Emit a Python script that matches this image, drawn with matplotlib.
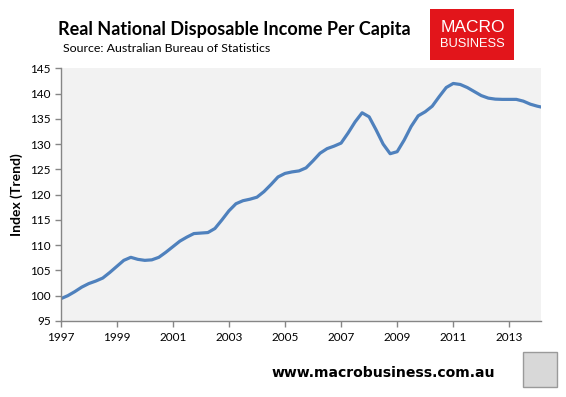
import matplotlib
matplotlib.use("Agg")
import matplotlib.pyplot as plt
import numpy as np
from matplotlib.patches import Rectangle

# Quarterly index values, 1997 Q1 onwards
start_year = 1997
values = [
    99.4, 100.0, 100.8, 101.7,
    102.4, 102.9, 103.5, 104.6,
    105.8, 107.0, 107.6, 107.2,
    107.0, 107.1, 107.6, 108.6,
    109.7, 110.8, 111.6, 112.3,
    112.4, 112.5, 113.3, 115.0,
    116.8, 118.2, 118.8, 119.1,
    119.5, 120.6, 122.0, 123.5,
    124.2, 124.5, 124.7, 125.3,
    126.7, 128.2, 129.1, 129.6,
    130.2, 132.2, 134.4, 136.2,
    135.4, 132.8, 130.0, 128.1,
    128.5, 130.8, 133.5, 135.6,
    136.4, 137.5, 139.4, 141.2,
    142.0, 141.8, 141.2, 140.4,
    139.6, 139.1, 138.9, 138.85,
    138.85, 138.85, 138.5, 137.9,
    137.5, 137.2,
]
x_ticks = [1997, 1999, 2001, 2003, 2005, 2007, 2009, 2011, 2013]
y_ticks = [95, 100, 105, 110, 115, 120, 125, 130, 135, 140, 145]

title = "Real National Disposable Income Per Capita"
subtitle = "Source: Australian Bureau of Statistics"
ylabel = "Index (Trend)"
footer = "www.macrobusiness.com.au"

W, H = 566, 397
fig = plt.figure(figsize=(W / 100, H / 100), dpi=100)
fig.patch.set_facecolor("white")

def fx(px):
    return px / W

def fy(py):
    return 1 - py / H

ax = fig.add_axes([fx(60.7), fy(321), fx(541) - fx(60.7), fy(68.3) - fy(321)])
ax.set_facecolor("#F2F2F2")

x = start_year + np.arange(len(values)) * 0.25
ax.plot(x, values, color="#4F81BD", lw=2.3, solid_capstyle="round", solid_joinstyle="round")

ax.set_xlim(1997, 2014.13)
ax.set_ylim(95, 145)
ax.set_xticks(x_ticks)
ax.set_xticklabels([str(t) for t in x_ticks])
ax.set_yticks(y_ticks)
ax.set_yticklabels([str(t) for t in y_ticks])

for s in ["top", "right"]:
    ax.spines[s].set_visible(False)
for s in ["left", "bottom"]:
    ax.spines[s].set_color("#868686")
    ax.spines[s].set_linewidth(1.0)

font = "Lato"
ax.tick_params(axis="both", direction="out", length=4, width=1, color="#868686",
               labelsize=8.5, labelcolor="black")
ax.tick_params(axis="y", pad=3)
ax.tick_params(axis="x", pad=4)
for lab in ax.get_xticklabels() + ax.get_yticklabels():
    lab.set_fontfamily(font)

fig.text(fx(17), fy(195), ylabel, rotation=90, ha="center", va="center",
         fontsize=10, fontweight="bold", family=font)

fig.text(fx(58), fy(30), title, ha="left", va="center",
         fontsize=13.0, fontweight="bold", family=font)
fig.text(fx(63), fy(49), subtitle, ha="left", va="center",
         fontsize=8.95, family=font)

# logo box
fig.patches.append(Rectangle((fx(430), fy(60)), fx(514) - fx(430), fy(9) - fy(60),
                             transform=fig.transFigure, facecolor="#E2151B",
                             edgecolor="none"))
fig.text(fx(472.5), fy(27), "MACRO", ha="center", va="center", color="white",
         fontsize=12.5, family="Liberation Sans")
fig.text(fx(472.5), fy(44), "BUSINESS", ha="center", va="center", color="white",
         fontsize=9.3, family="Liberation Sans")

fig.text(fx(272), fy(373), footer, ha="left", va="center",
         fontsize=10.1, fontweight="bold", family="DejaVu Sans")

# wolf image placeholder box
fig.patches.append(Rectangle((fx(523), fy(387)), fx(557) - fx(523), fy(352) - fy(387),
                             transform=fig.transFigure, facecolor="#D8D8D8",
                             edgecolor="#9A9A9A", lw=1))

fig.savefig("out.png", dpi=100)
